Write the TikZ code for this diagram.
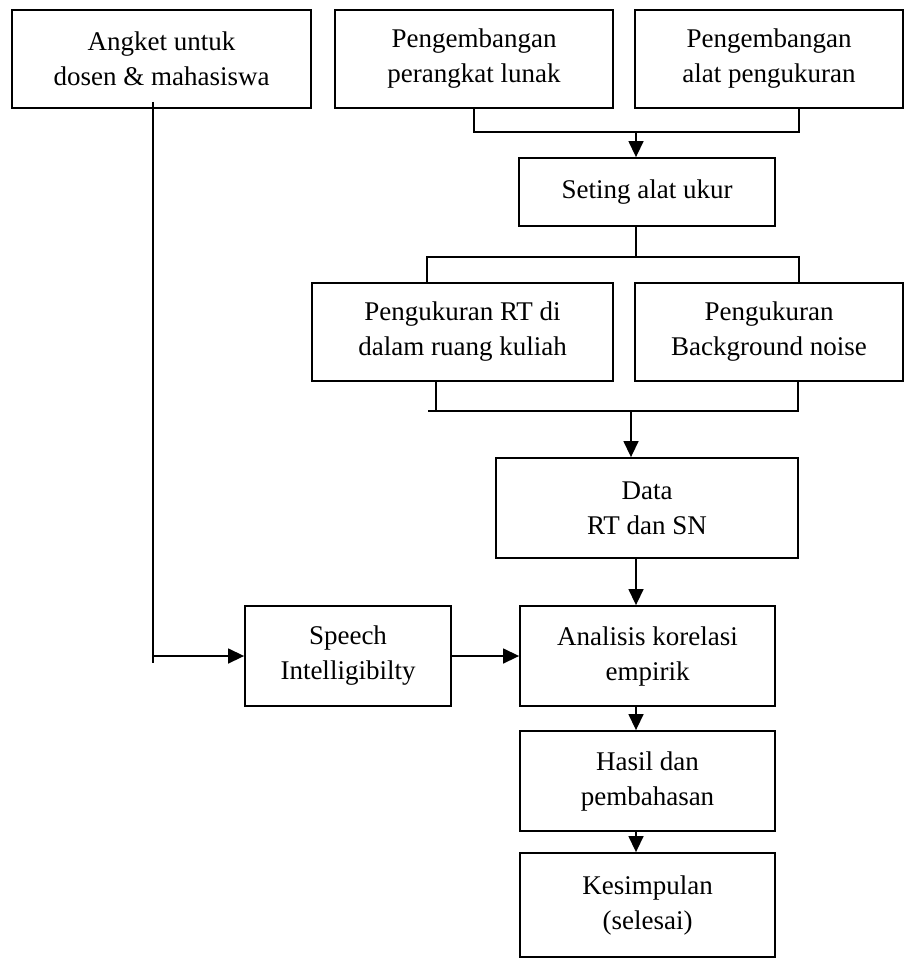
\documentclass[tikz,border=0pt]{standalone}
\usepackage{fontspec}
\setmainfont{Liberation Serif}
\usepackage{tikz}
\usetikzlibrary{arrows.meta,positioning}

\begin{document}
\begin{tikzpicture}[x=1pt,y=-1pt,
  box/.style={draw,line width=1.8pt,align=center,inner sep=2pt,
    font=\fontsize{27}{35}\selectfont},
  link/.style={line width=1.4pt},
  arr/.style={link,-{Triangle[length=16pt,width=15pt]}}]
  \useasboundingbox (0,0) rectangle (905,960);
  \node[box,minimum width=299pt,minimum height=98pt] (angket) at (161.5,59) {Angket untuk\\dosen \& mahasiswa};
  \node[box,minimum width=278pt,minimum height=98pt] (devsw) at (474,59) {Pengembangan\\perangkat lunak};
  \node[box,minimum width=268pt,minimum height=98pt] (devhw) at (769,59) {Pengembangan\\alat pengukuran};
  \node[box,minimum width=256pt,minimum height=68pt] (seting) at (647,192) {Seting alat ukur};
  \node[box,minimum width=301pt,minimum height=98pt] (ukurrt) at (462.5,332) {Pengukuran RT di\\dalam ruang kuliah};
  \node[box,minimum width=268pt,minimum height=98pt] (ukurbn) at (769,332) {Pengukuran\\Background noise};
  \node[box,minimum width=302pt,minimum height=100pt] (data) at (647,508) {Data\\RT dan SN};
  \node[box,minimum width=206pt,minimum height=100pt] (speech) at (348,656) {Speech\\Intelligibilty};
  \node[box,minimum width=255pt,minimum height=100pt] (analisis) at (647.5,656) {Analisis korelasi\\empirik};
  \node[box,minimum width=255pt,minimum height=100pt] (hasil) at (647.5,781) {Hasil dan\\pembahasan};
  \node[box,minimum width=255pt,minimum height=104pt] (simpul) at (647.5,905) {Kesimpulan\\(selesai)};

  \coordinate (join1) at (636,132);
  \coordinate (join1r) at (799,132);
  \coordinate (split) at (636,257);
  \coordinate (splitl) at (427,257);
  \coordinate (splitr) at (799,257);
  \coordinate (join2) at (631,411);
  \coordinate (join2l) at (428,411);
  \coordinate (join2rt) at (436,411);
  \coordinate (join2r) at (798,411);
  \coordinate (down) at (636,600);
  \coordinate (left) at (153,656);
  \coordinate (leftend) at (153,663);

  \draw[link] (devsw.south) |- (join1r) -- (join1r |- devhw.south);
  \draw[arr] (join1) -- (join1 |- seting.north);
  \draw[link] (split |- seting.south) -- (split);
  \draw[link] (splitl |- ukurrt.north) -- (splitl) -- (splitr) -- (splitr |- ukurbn.north);
  \draw[link] (join2rt |- ukurrt.south) -- (join2rt);
  \draw[link] (join2r |- ukurbn.south) -- (join2r) -- (join2l);
  \draw[arr] (join2) -- (join2 |- data.north);
  \draw[arr] (down |- data.south) -- (down |- analisis.north);
  \draw[link] ([yshift=7pt]left |- angket.south) -- (leftend);
  \draw[arr] (left) -- (speech.west);
  \draw[arr] (speech.east) -- (analisis.west);
  \draw[arr] (down |- analisis.south) -- (down |- hasil.north);
  \draw[arr] (down |- hasil.south) -- (down |- simpul.north);
\end{tikzpicture}
\end{document}
